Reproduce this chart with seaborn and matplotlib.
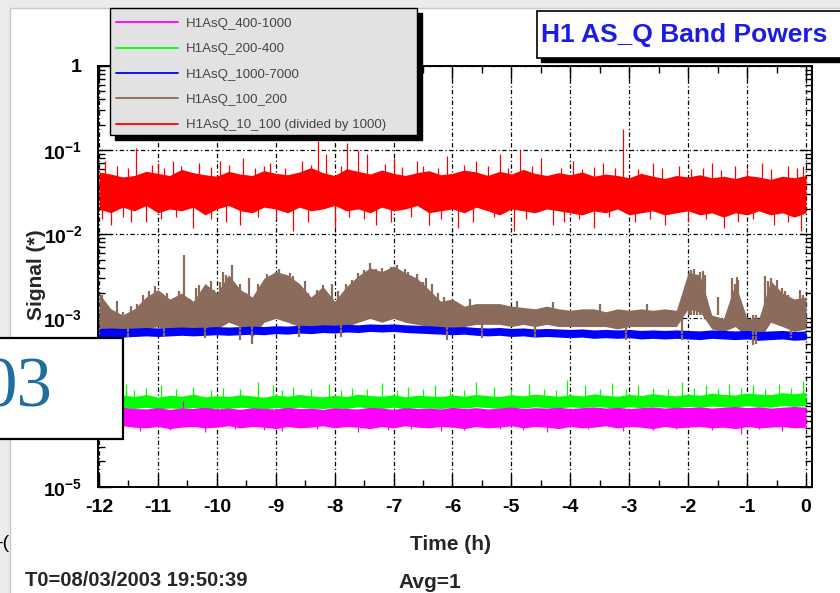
import numpy as np
import pandas as pd
import matplotlib
matplotlib.use('Agg')
import matplotlib.pyplot as plt
from matplotlib.patches import Rectangle
from matplotlib.lines import Line2D
from matplotlib.ticker import FixedLocator, FixedFormatter, MultipleLocator, LogLocator, NullFormatter
import seaborn as sns

# time axis, one bin every 0.2 h
hours = np.round(np.linspace(-12, 0, 61), 1)

# band envelopes (min / max of the signal inside each bin)
red_hi = np.array([5.5, 5.2, 4.8, 5.0, 5.6, 5.3, 5.0, 5.9, 5.4, 5.1,
                   4.9, 5.6, 5.2, 5.0, 5.7, 5.3, 5.1, 5.5, 6.2, 5.4,
                   5.0, 6.0, 5.6, 5.2, 5.8, 5.3, 5.0, 5.4, 5.7, 5.1,
                   5.3, 5.8, 5.5, 5.0, 5.6, 5.2, 5.9, 5.3, 5.0, 5.4,
                   5.1, 5.5, 4.9, 5.2, 5.0, 4.7, 5.3, 4.9, 4.6, 5.0,
                   4.8, 5.1, 4.7, 4.9, 4.6, 5.0, 4.8, 4.5, 4.9, 4.7, 5.0]) * 1e-2
red_lo = np.array([2.0, 1.8, 2.1, 1.9, 2.2, 1.8, 2.0, 1.9, 2.1, 1.7,
                   2.0, 2.2, 1.9, 1.8, 2.1, 2.0, 1.8, 2.1, 1.9, 2.0,
                   2.2, 1.9, 2.0, 1.8, 2.1, 1.9, 2.0, 2.2, 1.8, 1.9,
                   2.0, 1.8, 2.1, 1.9, 1.7, 2.0, 1.9, 1.8, 2.0, 1.9,
                   1.8, 1.7, 1.9, 1.8, 2.0, 1.7, 1.8, 1.9, 1.7, 1.8,
                   1.9, 1.7, 1.8, 1.6, 1.8, 1.7, 1.9, 1.7, 1.8, 1.6, 1.8]) * 1e-2

brown_hi = np.array([2.0, 1.3, 1.1, 1.3, 1.8, 2.2, 1.7, 2.0, 1.6, 2.6,
                     2.0, 3.3, 2.2, 1.8, 3.0, 3.6, 3.3, 2.6, 1.8, 2.4,
                     1.6, 2.4, 3.2, 4.0, 3.6, 4.2, 3.5, 3.0, 2.2, 1.6,
                     1.7, 1.4, 1.5, 1.5, 1.5, 1.4, 1.35, 1.3, 1.4, 1.3,
                     1.25, 1.3, 1.3, 1.2, 1.3, 1.25, 1.3, 1.25, 1.3, 1.25,
                     3.5, 3.3, 1.1, 1.0, 2.6, 1.0, 1.0, 2.8, 2.0, 1.7, 1.8]) * 1e-3
brown_lo = np.array([0.75, 0.7, 0.7, 0.7, 0.75, 0.8, 0.7, 0.75, 0.7, 0.8,
                     0.75, 0.9, 0.8, 0.6, 0.9, 1.0, 0.9, 0.8, 0.75, 0.8,
                     0.7, 0.8, 0.9, 1.0, 0.9, 1.0, 0.9, 0.85, 0.8, 0.7,
                     0.7, 0.8, 0.85, 0.85, 0.85, 0.8, 0.85, 0.8, 0.85, 0.8,
                     0.8, 0.8, 0.8, 0.8, 0.75, 0.8, 0.8, 0.8, 0.8, 0.8,
                     1.3, 1.2, 0.75, 0.7, 0.8, 0.6, 0.55, 0.9, 0.8, 0.7, 0.75]) * 1e-3

blue_hi = np.array([7.6, 7.7, 7.6, 7.7, 7.8, 7.7, 7.8, 7.9, 7.8, 7.9,
                    8.0, 7.9, 8.0, 8.1, 8.0, 8.2, 8.1, 8.3, 8.2, 8.4,
                    8.3, 8.5, 8.4, 8.6, 8.5, 8.6, 8.4, 8.3, 8.2, 8.0,
                    7.9, 8.0, 7.8, 7.7, 7.8, 7.6, 7.7, 7.5, 7.6, 7.5,
                    7.4, 7.5, 7.3, 7.4, 7.3, 7.4, 7.2, 7.3, 7.2, 7.3,
                    7.2, 7.1, 7.3, 7.2, 7.1, 7.2, 7.0, 7.1, 7.2, 7.0, 7.1]) * 1e-4
blue_lo = np.array([6.0, 6.1, 6.0, 6.1, 6.2, 6.1, 6.2, 6.3, 6.2, 6.3,
                    6.4, 6.3, 6.4, 6.5, 6.4, 6.6, 6.5, 6.7, 6.6, 6.8,
                    6.7, 6.9, 6.8, 7.0, 6.9, 7.0, 6.8, 6.7, 6.6, 6.5,
                    6.4, 6.5, 6.3, 6.2, 6.3, 6.1, 6.2, 6.0, 6.1, 6.0,
                    5.9, 6.0, 5.8, 5.9, 5.8, 5.9, 5.7, 5.8, 5.7, 5.8,
                    5.7, 5.6, 5.8, 5.7, 5.6, 5.7, 5.5, 5.6, 5.7, 5.5, 5.6]) * 1e-4

green_hi = np.array([12.0, 11.5, 12.3, 11.8, 12.5, 11.6, 12.2, 11.9, 12.6, 11.7,
                     12.1, 11.8, 12.4, 12.0, 11.6, 12.3, 11.9, 12.5, 12.0, 11.7,
                     12.2, 11.8, 12.6, 12.1, 11.9, 12.4, 11.7, 12.2, 12.0, 11.8,
                     12.3, 11.9, 12.5, 12.1, 11.8, 12.4, 12.0, 12.6, 12.2, 11.9,
                     12.4, 12.0, 12.7, 12.2, 11.9, 12.5, 12.1, 12.8, 12.3, 12.0,
                     12.6, 12.2, 12.9, 12.5, 12.3, 13.0, 12.6, 12.4, 13.1, 12.7, 13.2]) * 1e-5
green_lo = np.array([8.6, 8.4, 8.7, 8.5, 8.8, 8.4, 8.6, 8.5, 8.7, 8.4,
                     8.6, 8.5, 8.8, 8.6, 8.4, 8.7, 8.5, 8.8, 8.6, 8.5,
                     8.7, 8.5, 8.9, 8.6, 8.5, 8.8, 8.4, 8.7, 8.6, 8.5,
                     8.8, 8.6, 8.9, 8.7, 8.5, 8.8, 8.6, 8.9, 8.7, 8.6,
                     8.9, 8.7, 9.0, 8.8, 8.6, 8.9, 8.7, 9.0, 8.8, 8.7,
                     9.0, 8.8, 9.1, 8.9, 8.8, 9.2, 8.9, 8.8, 9.2, 9.0, 9.2]) * 1e-5

magenta_hi = np.array([8.6, 8.3, 8.8, 8.5, 8.4, 8.7, 8.3, 8.6, 8.5, 8.8,
                       8.4, 8.6, 8.3, 8.7, 8.5, 8.4, 8.8, 8.5, 8.6, 8.3,
                       8.7, 8.5, 8.4, 8.8, 8.6, 8.3, 8.7, 8.5, 8.6, 8.4,
                       8.8, 8.5, 8.7, 8.4, 8.6, 8.9, 8.5, 8.7, 8.6, 8.8,
                       8.5, 8.7, 8.9, 8.6, 8.8, 8.5, 8.7, 8.9, 8.6, 8.8,
                       8.7, 8.9, 8.6, 8.8, 9.0, 8.7, 8.9, 8.6, 8.8, 9.0, 8.8]) * 1e-5
magenta_lo = np.array([5.2, 5.0, 5.3, 5.1, 5.0, 5.2, 4.9, 5.1, 5.2, 5.0,
                       5.1, 5.3, 5.0, 5.2, 5.1, 4.9, 5.2, 5.0, 5.1, 5.3,
                       5.0, 5.2, 5.1, 4.9, 5.2, 5.0, 5.3, 5.1, 5.0, 5.2,
                       5.1, 4.9, 5.2, 5.0, 5.1, 5.3, 5.0, 5.2, 5.1, 4.9,
                       5.2, 5.0, 5.1, 5.3, 5.0, 5.2, 5.1, 4.9, 5.2, 5.0,
                       5.1, 5.2, 5.0, 5.1, 4.9, 5.2, 5.0, 5.1, 5.2, 5.0, 5.1]) * 1e-5

# isolated spikes sticking out of the bands: time (h), peak value
red_spike_t = [-11.9, -11.38, -11.0, -10.75, -10.3, -9.95, -9.55, -9.1, -8.55, -8.28,
               -8.15, -7.79, -7.6, -7.45, -7.0, -6.6, -6.1, -5.6, -5.2, -4.85,
               -4.5, -3.95, -3.45, -3.1, -2.6, -2.15, -1.6, -1.2, -0.75, -0.3, -0.05,
               -11.7, -11.5, -11.1, -10.9, -10.6, -10.1, -9.8, -9.35, -9.2, -8.85,
               -8.4, -7.9, -7.15, -6.85, -6.5, -6.25, -5.8, -5.4, -5.05, -4.65,
               -4.15, -3.8, -3.6, -3.25, -2.85, -2.45, -1.95, -1.75, -1.45, -1.0,
               -0.6, -0.15,
               -11.8, -11.2, -10.4, -9.6, -8.7, -8.0, -7.3, -6.4, -5.9, -4.95,
               -4.3, -3.6, -2.4, -1.4, -0.55, -0.08,
               -11.95, -11.6, -11.45, -10.95, -10.7, -10.1, -9.85, -9.3, -9.0, -8.45,
               -7.75, -7.5, -7.05, -6.7, -6.2, -5.65, -5.3, -4.75, -4.1, -3.85,
               -3.35, -2.9, -2.65, -2.0, -1.7, -1.15, -0.9, -0.3]
red_spike_v = [0.075, 0.105, 0.07, 0.075, 0.07, 0.075, 0.08, 0.07, 0.075, 0.13,
               0.09, 0.12, 0.10, 0.09, 0.08, 0.075, 0.085, 0.075, 0.09, 0.10,
               0.08, 0.075, 0.07, 0.18, 0.07, 0.065, 0.07, 0.065, 0.07, 0.065, 0.065,
               0.064, 0.062, 0.066, 0.061, 0.065, 0.063, 0.067, 0.062, 0.065, 0.061,
               0.066, 0.064, 0.068, 0.063, 0.065, 0.062, 0.066, 0.064, 0.061, 0.065,
               0.062, 0.060, 0.063, 0.061, 0.059, 0.062, 0.060, 0.061, 0.058, 0.060,
               0.059, 0.061,
               0.013, 0.014, 0.012, 0.013, 0.011, 0.012, 0.013, 0.013, 0.012, 0.011,
               0.013, 0.012, 0.013, 0.012, 0.013, 0.011,
               0.015, 0.016, 0.014, 0.015, 0.016, 0.015, 0.014, 0.016, 0.015, 0.014,
               0.016, 0.015, 0.014, 0.016, 0.015, 0.014, 0.016, 0.015, 0.014, 0.015,
               0.016, 0.014, 0.015, 0.014, 0.015, 0.014, 0.015, 0.014]

brown_spike_t = [-10.56, -9.74, -9.45, -8.95, -7.4, -6.95, -1.9, -1.17, -0.7, -0.1,
                 -11.7, -11.35, -11.05, -10.85, -10.3, -10.1, -9.85, -9.6, -9.15, -8.75,
                 -8.5, -8.3, -8.05, -7.8, -7.6, -7.2, -6.8, -6.6, -6.35, -5.7,
                 -4.9, -4.3, -3.5, -2.7, -1.95, -1.75, -1.5, -1.25, -0.6, -0.4,
                 -11.95, -11.85, -11.6, -11.45, -11.25, -11.15, -10.95, -10.75, -10.65, -10.45,
                 -10.35, -10.05, -9.95, -9.9, -9.7, -9.5, -9.3, -9.1, -9.0, -8.9,
                 -8.8, -8.7, -8.6, -8.45, -8.2, -8.15, -7.95, -7.7, -7.5, -7.35,
                 -7.3, -7.1, -7.05, -6.9, -6.75, -6.7, -6.5, -6.45, -6.25, -6.15,
                 -1.98, -1.85, -1.8, -1.72, -1.2, -1.15, -0.65, -0.55, -0.5, -0.35,
                 -0.3, -0.05,
                 -9.4, -6.1, -3.05, -0.9, -11.5, -10.9, -10.2, -9.6, -8.6, -7.9,
                 -5.5, -4.6, -2.1, -0.85, -0.25]
brown_spike_v = [5.6e-3, 4.3e-3, 3.0e-3, 3.9e-3, 4.6e-3, 4.3e-3, 3.9e-3, 3.1e-3, 3.2e-3, 2.2e-3,
                 1.6e-3, 1.5e-3, 2.4e-3, 2.0e-3, 2.5e-3, 2.8e-3, 3.3e-3, 2.6e-3, 3.4e-3, 3.5e-3,
                 2.8e-3, 2.2e-3, 2.6e-3, 2.6e-3, 3.5e-3, 4.0e-3, 3.9e-3, 3.4e-3, 2.6e-3, 1.7e-3,
                 1.6e-3, 1.55e-3, 1.5e-3, 1.5e-3, 3.8e-3, 3.7e-3, 1.8e-3, 3.0e-3, 3.0e-3, 2.3e-3,
                 1.9e-3, 1.4e-3, 1.2e-3, 1.4e-3, 1.9e-3, 2.1e-3, 1.9e-3, 1.6e-3, 2.1e-3, 1.7e-3,
                 2.3e-3, 2.2e-3, 2.7e-3, 3.6e-3, 2.4e-3, 2.0e-3, 2.6e-3, 3.0e-3, 3.6e-3, 3.1e-3,
                 2.9e-3, 3.2e-3, 2.3e-3, 2.0e-3, 2.5e-3, 1.9e-3, 2.1e-3, 2.9e-3, 3.8e-3, 3.3e-3,
                 3.9e-3, 3.6e-3, 4.1e-3, 3.2e-3, 3.6e-3, 2.9e-3, 2.7e-3, 3.0e-3, 2.0e-3, 1.8e-3,
                 3.5e-3, 3.2e-3, 3.6e-3, 3.3e-3, 2.6e-3, 2.9e-3, 2.8e-3, 2.5e-3, 2.9e-3, 2.1e-3,
                 1.9e-3, 1.9e-3,
                 5.0e-4, 5.5e-4, 5.5e-4, 4.8e-4, 6.0e-4, 6.0e-4, 5.8e-4, 5.5e-4, 6.0e-4, 6.0e-4,
                 5.8e-4, 6.0e-4, 5.5e-4, 5.0e-4, 5.8e-4]

green_spike_t = [-11.55, -11.2, -10.95, -10.4, -9.9, -9.3, -9.05, -8.7, -8.1, -7.7,
                 -7.2, -6.75, -6.3, -5.6, -5.3, -4.7, -4.05, -3.75, -3.3, -2.85,
                 -2.1, -1.7, -1.3, -0.9, -0.45, -0.05,
                 -11.85, -11.4, -10.7, -10.1, -9.6, -8.9, -8.4, -7.9, -7.45, -6.95,
                 -6.5, -6.05, -5.8, -5.0, -4.45, -4.25, -3.5, -3.05, -2.6, -2.35,
                 -1.9, -1.5, -1.1, -0.7, -0.25]
green_spike_v = [16.5, 15.0, 16.0, 15.5, 15.0, 17.5, 16.0, 15.5, 16.5, 15.0,
                 17.0, 15.5, 16.0, 17.5, 15.5, 16.5, 18.5, 16.0, 17.0, 16.0,
                 17.5, 16.0, 16.5, 16.0, 16.5, 18.0,
                 14.5, 14.0, 14.5, 14.0, 14.5, 14.0, 14.5, 14.0, 14.5, 14.0,
                 14.5, 14.5, 14.0, 14.5, 14.5, 14.0, 14.5, 14.5, 15.0, 14.5,
                 15.0, 14.5, 15.0, 14.5, 15.0]

magenta_spike_t = [-11.3, -10.2, -8.9, -7.6, -6.2, -4.4, -3.1, -1.1, -0.4, -10.58,
                   -11.7, -10.8, -9.7, -9.2, -8.3, -7.1, -6.7, -5.8, -5.2, -4.8,
                   -3.7, -2.6, -2.2, -1.6, -0.8]
magenta_spike_v = [4.6, 4.5, 4.6, 4.5, 4.6, 4.5, 4.6, 4.2, 4.6, 10.5,
                   4.8, 4.7, 4.8, 4.7, 4.8, 4.7, 4.8, 4.7, 4.8, 4.7,
                   4.8, 4.7, 4.8, 4.7, 4.8]

series_names = ['H1AsQ_400-1000', 'H1AsQ_200-400', 'H1AsQ_1000-7000',
                'H1AsQ_100_200', 'H1AsQ_10_100 (divided by 1000)']
series_colors = ['#ff00ff', '#00ff00', '#0000ff', '#8b6b5c', '#ff0000']

bands = {
    'H1AsQ_400-1000': (magenta_lo, magenta_hi),
    'H1AsQ_200-400': (green_lo, green_hi),
    'H1AsQ_1000-7000': (blue_lo, blue_hi),
    'H1AsQ_100_200': (brown_lo, brown_hi),
    'H1AsQ_10_100 (divided by 1000)': (red_lo, red_hi),
}
frames = []
for name, (lo, hi) in bands.items():
    frames.append(pd.DataFrame({'time': hours, 'signal': lo, 'series': name}))
    frames.append(pd.DataFrame({'time': hours, 'signal': hi, 'series': name}))
df = pd.concat(frames, ignore_index=True)
palette = dict(zip(series_names, series_colors))

sns.set_theme(style='ticks')
plt.rcParams['font.family'] = ['Liberation Sans', 'DejaVu Sans']
plt.rcParams['mathtext.fontset'] = 'custom'
plt.rcParams['mathtext.bf'] = 'Liberation Sans:bold'
plt.rcParams['mathtext.rm'] = 'Liberation Sans'
plt.rcParams['axes.unicode_minus'] = False

W, H = 840, 593
fig = plt.figure(figsize=(8.4, 5.93), dpi=100, facecolor='#ebebeb')


def box(x0, y0, x1, y1, **kw):
    # rectangle in pixel coords measured from the top left corner
    r = Rectangle((x0 / W, 1 - y1 / H), (x1 - x0) / W, (y1 - y0) / H,
                  transform=fig.transFigure, **kw)
    fig.add_artist(r)
    return r


def ftext(x, y, s, **kw):
    return fig.text(x / W, 1 - y / H, s, **kw)


# partly hidden slide text and the white ROOT canvas
ftext(9, 543, '-(', ha='right', va='center', fontsize=14, color='black', zorder=-3)
box(10, 8, 860, 600, fc='white', ec='#c8c8c8', lw=1.0, zorder=-2)

ax = fig.add_axes([97.7 / W, 1 - 486.7 / H, (812 - 97.7) / W, (486.7 - 66) / H])
ax.set_facecolor('white')
ax.set_yscale('log')

order = ['H1AsQ_100_200', 'H1AsQ_1000-7000', 'H1AsQ_200-400',
         'H1AsQ_400-1000', 'H1AsQ_10_100 (divided by 1000)']

# brown spikes go under the blue band, the rest sit on top of their own band
ax.vlines(brown_spike_t, 1.1e-3, brown_spike_v, color=palette['H1AsQ_100_200'], lw=1.6, zorder=1.5)
sns.lineplot(data=df, x='time', y='signal', hue='series', hue_order=order,
             palette=palette, estimator='median', errorbar=('pi', 100),
             err_style='band', err_kws={'alpha': 1, 'linewidth': 0},
             linewidth=0.6, legend=False, ax=ax)
ax.vlines(green_spike_t, 1.0e-4, np.array(green_spike_v) * 1e-5, color='#00ff00', lw=0.9)
ax.vlines(magenta_spike_t, 6.5e-5, np.array(magenta_spike_v) * 1e-5, color='#ff00ff', lw=0.9)
ax.vlines(red_spike_t, 0.033, red_spike_v, color='#ff0000', lw=0.9)

ax.set_xlim(-12.022, 0.102)
ax.set_ylim(1e-5, 1)
ax.set_xlabel('')
ax.set_ylabel('')

ax.xaxis.set_major_locator(MultipleLocator(1))
ax.xaxis.set_minor_locator(MultipleLocator(0.5))
ax.yaxis.set_major_locator(FixedLocator([1e-5, 1e-4, 1e-3, 1e-2, 1e-1, 1]))
ax.yaxis.set_major_formatter(FixedFormatter([r'$\mathbf{10^{-5}}$', '', r'$\mathbf{10^{-3}}$',
                                             r'$\mathbf{10^{-2}}$', r'$\mathbf{10^{-1}}$',
                                             r'$\mathbf{1}$']))
ax.yaxis.set_minor_locator(LogLocator(base=10, subs=range(2, 10), numticks=20))
ax.yaxis.set_minor_formatter(NullFormatter())
ax.set_xticks(range(-12, 1))
ax.set_xticklabels([str(v) for v in range(-12, 1)], fontweight='bold')

ax.tick_params(which='both', direction='in', top=True, right=True, color='black', width=1.0)
ax.tick_params(which='major', length=9)
ax.tick_params(which='minor', length=5)
ax.tick_params(axis='x', labelsize=14, pad=9, labelcolor='black')
ax.tick_params(axis='y', labelsize=14, pad=11, labelcolor='black')
for s in ax.spines.values():
    s.set_linewidth(1.4)
    s.set_color('black')

ax.grid(True, which='major', color='black', lw=0.9, linestyle=(0, (3.5, 2, 1, 2)))
ax.set_axisbelow(True)

# axis titles and info line, ROOT style
ftext(451, 545, 'Time (h)', ha='center', va='center', fontsize=15, fontweight='bold')
ftext(36, 275, 'Signal (*)', ha='center', va='center', rotation=90, fontsize=15, fontweight='bold')
ftext(25, 581, 'T0=08/03/2003 19:50:39', ha='left', va='center', fontsize=14.5, fontweight='bold')
ftext(398, 582, 'Avg=1', ha='left', va='center', fontsize=15, fontweight='bold')

# legend box with hard shadow
box(115, 13, 422, 140, fc='black', ec='black', zorder=4)
box(110, 8, 417, 135, fc='#e2e2e2', ec='black', lw=1.0, zorder=5)
handles = [Line2D([], [], color=c, lw=1.3) for c in series_colors]
leg = fig.legend(handles, series_names, loc='upper left', bbox_to_anchor=(116 / W, 1 - 17.5 / H),
                 frameon=False, fontsize=9.5, handlelength=4.7, handletextpad=0.6,
                 labelspacing=1.0, borderpad=0, borderaxespad=0, labelcolor='#454545')
leg.set_zorder(6)

# title box
box(541, 15, 864, 62, fc='black', ec='black', zorder=4)
box(537, 11, 860, 58, fc='white', ec='black', lw=1.2, zorder=5)
ftext(541, 35, 'H1 AS_Q Band Powers', ha='left', va='center', fontsize=19,
      fontweight='bold', color='#1c1ce6', zorder=6)

# slide box laid over the chart
box(-3, 338, 123, 439, fc='white', ec='black', lw=1.6, zorder=7)
ftext(52, 389, '03', ha='right', va='center', fontsize=51, family='Liberation Serif',
      color='#1e6f9f', zorder=8)

fig.savefig('out.png', dpi=100, facecolor=fig.get_facecolor())
